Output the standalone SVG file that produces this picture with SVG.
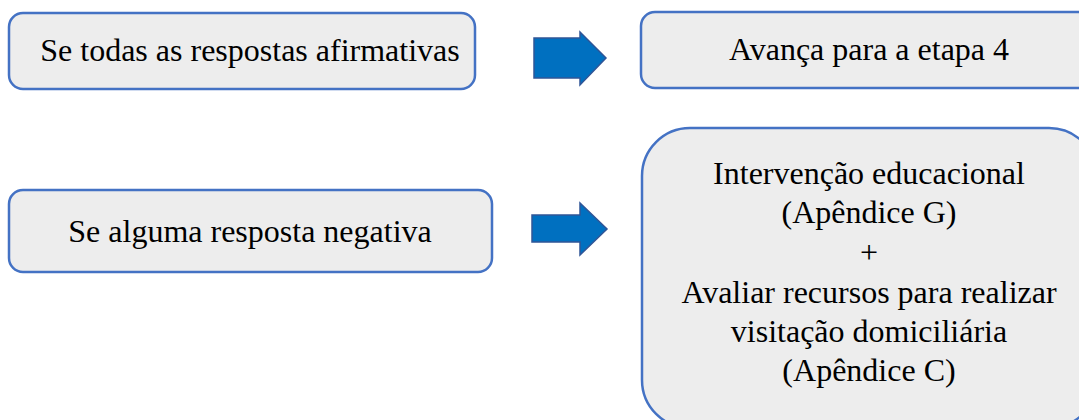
<svg xmlns="http://www.w3.org/2000/svg" width="1079" height="420" viewBox="0 0 1079 420">
<style>
.box{fill:#EDEDED;stroke:#4472C4;stroke-width:2.5}
.arr{fill:#0070C0;stroke:#2F5597;stroke-width:1.5}
.t{font-size:32px;fill:#000;text-anchor:middle}
</style>
<rect width="1079" height="420" fill="#fff"/>
<g font-family="'Liberation Serif', 'Times New Roman', serif">
<g id="n1"><rect class="box" x="9" y="13" width="466" height="76" rx="14"/><text class="t" x="250" y="61">Se todas as respostas afirmativas</text></g>
<g id="n2"><rect class="box" x="641" y="12" width="460" height="76" rx="14"/><text class="t" x="869" y="60">Avança para a etapa 4</text></g>
<g id="n3"><rect class="box" x="9" y="190" width="483" height="82" rx="14"/><text class="t" x="250" y="242">Se alguma resposta negativa</text></g>
<g id="n4"><rect class="box" x="642" y="128" width="455" height="300" rx="48"/>
<text class="t" x="869" y="184">Intervenção educacional</text>
<text class="t" x="869" y="223">(Apêndice G)</text>
<text class="t" x="869" y="263">+</text>
<text class="t" x="869" y="303">Avaliar recursos para realizar</text>
<text class="t" x="869" y="342">visitação domiciliária</text>
<text class="t" x="869" y="381">(Apêndice C)</text>
</g>
</g>
<g id="connectors">
<path class="arr" d="M534,38 H580 V32 L606,58 L580,85 V78 H534 Z"/>
<path class="arr" d="M532,215 H580 V203 L607,229 L580,255 V242 H532 Z"/>
</g>
</svg>
